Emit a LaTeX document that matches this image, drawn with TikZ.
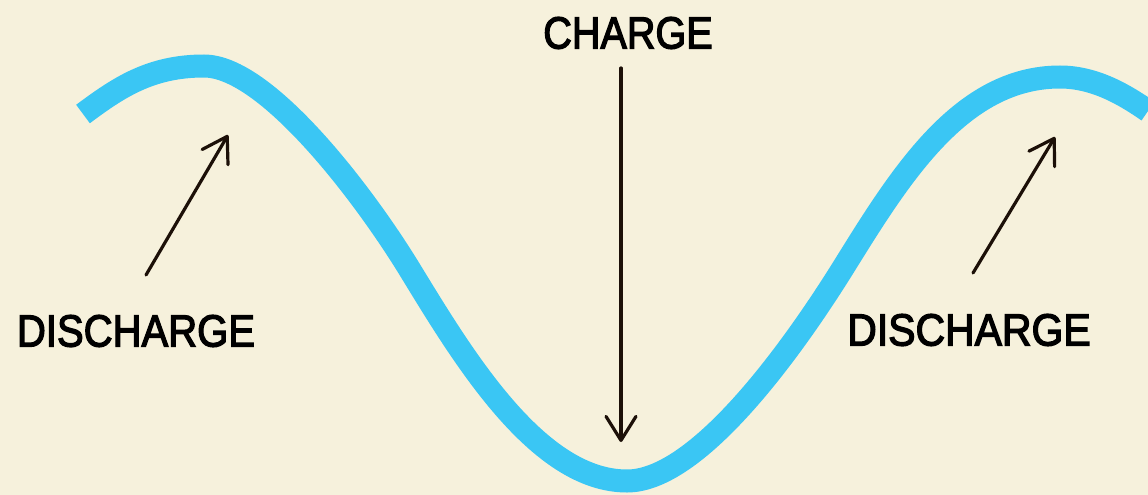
\documentclass[tikz,border=0pt]{standalone}
\usepackage{fontspec}
\setmainfont{Liberation Sans}
\newfontfamily\lblfont[FakeBold=3]{Liberation Sans}
\usetikzlibrary{arrows.meta}
\definecolor{bgcream}{RGB}{246,241,220}
\definecolor{waveblue}{RGB}{58,198,244}
\definecolor{inkdark}{RGB}{28,16,8}
\tikzset{
  lbl/.style={inner sep=0pt, font=\fontsize{45}{50}\lblfont, text=black},
  pointer/.style={draw=inkdark, line width=3.2pt, line cap=round,
    -{Straight Barb[length=24pt, width=30pt, line width=3.2pt, round]}},
  wave/.style={draw=waveblue, line width=23pt}
}
\begin{document}
\begin{tikzpicture}[x=1pt, y=-1pt]
\fill[bgcream] (0,0) rectangle (1148,495);
\useasboundingbox (0,0) rectangle (1148,495);
% wave
\draw[wave] (83,114) .. controls (118,88) and (150,66) .. (204,66)
  .. controls (266,66) and (363,193) .. (410,270)
  .. controls (462,355) and (537,481) .. (627,481)
  .. controls (697,481) and (790,353) .. (843,268)
  .. controls (899,178) and (960,77) .. (1060,77)
  .. controls (1095,77) and (1125,95) .. (1148,111);
% labels
\node[lbl] (charge) at (628,33) {\scalebox{0.88}[1]{CHARGE}};
\node[lbl] (dl) at (136,331) {\scalebox{0.89}[1]{DISCHARGE}};
\node[lbl] (dr) at (969,330) {\scalebox{0.91}[1]{DISCHARGE}};
% arrow ends
\coordinate (ctail) at (621,68);
\coordinate (ctip) at (621,442);
\coordinate (ltail) at (146,275);
\coordinate (ltip) at (228,135);
\coordinate (rtail) at (973,273);
\coordinate (rtip) at (1055,137);
\draw[pointer] (ctail) -- (ctip);
\draw[pointer] (ltail) -- (ltip);
\draw[pointer] (rtail) -- (rtip);
\end{tikzpicture}
\end{document}
